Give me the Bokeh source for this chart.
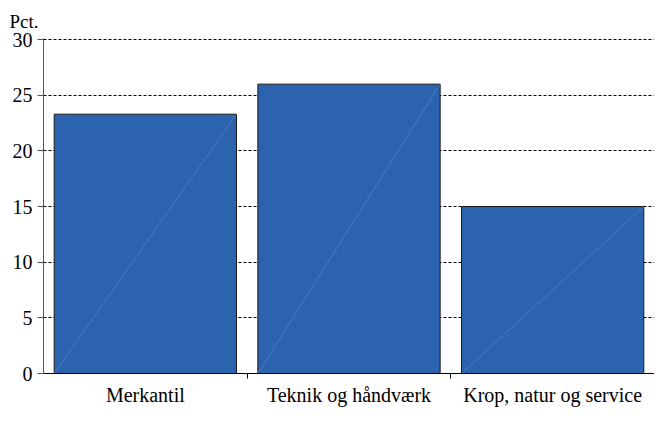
from bokeh.plotting import figure
from bokeh.models import FixedTicker, ColumnDataSource
from bokeh.embed import file_html
from bokeh.resources import INLINE
import numpy as np

categories = ["Merkantil", "Teknik og håndværk", "Krop, natur og service"]
values = [23.3, 26.0, 15.0]
y_ticks = [0, 5, 10, 15, 20, 25, 30]

n = len(categories)
xc = np.arange(n) + 0.5
bw = 0.895
src = ColumnDataSource(dict(x=xc, top=values, x0=xc - bw / 2, x1=xc + bw / 2,
                            y0=[0] * n))

FONT = "Liberation Serif"

p = figure(width=654, height=408, output_backend="svg", toolbar_location=None,
           x_range=(0, n), y_range=(0, 30.1),
           min_border_left=43, min_border_right=0, min_border_top=38, min_border_bottom=20,
           title="Pct.")
p.outline_line_color = None
p.background_fill_color = "white"
p.border_fill_color = "white"

p.title.text_font = FONT
p.title.text_font_size = "19px"
p.title.text_font_style = "normal"
p.title.text_color = "black"
p.title.align = "left"
p.title.offset = -34
p.title.standoff = 14

p.vbar(x="x", top="top", width=bw, bottom=0, source=src,
       fill_color="#2B63AE", line_color="#1a1a1a", line_width=1)
p.segment(x0="x0", y0="y0", x1="x1", y1="top", source=src,
          line_color="#7FA0D4", line_width=0.6, line_alpha=0.7)

p.xgrid.grid_line_color = None
p.ygrid.grid_line_color = "black"
p.ygrid.grid_line_dash = "3 2"
p.ygrid.grid_line_width = 1
p.ygrid.ticker = FixedTicker(ticks=y_ticks)

ya = p.yaxis[0]
ya.ticker = FixedTicker(ticks=y_ticks)
ya.major_tick_in = 0
ya.major_tick_out = 6
ya.minor_tick_line_color = None
ya.axis_line_color = "#555555"
ya.major_tick_line_color = "#555555"
ya.major_label_text_font = FONT
ya.major_label_text_font_size = "20px"
ya.major_label_text_color = "black"
ya.major_label_standoff = 5

xa = p.xaxis[0]
xa.ticker = FixedTicker(ticks=list(xc), minor_ticks=list(np.arange(1, n)))
xa.major_label_overrides = {float(x): c for x, c in zip(xc, categories)}
xa.major_tick_out = 0
xa.major_tick_in = 0
xa.minor_tick_out = 5
xa.minor_tick_in = 0
xa.minor_tick_line_color = "black"
xa.axis_line_color = "black"
xa.major_label_text_font = FONT
xa.major_label_text_font_size = "20px"
xa.major_label_text_color = "black"
xa.major_label_standoff = 5

open("out.html", "w").write(file_html(p, INLINE))
